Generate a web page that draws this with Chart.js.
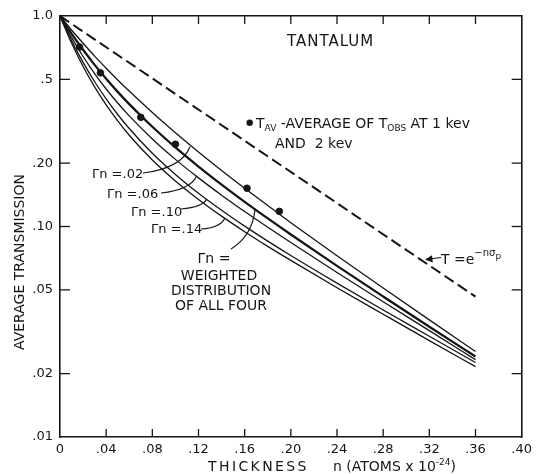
<!DOCTYPE html>
<html><head><meta charset="utf-8">
<script src="https://cdn.jsdelivr.net/npm/chart.js@4.4.1/dist/chart.umd.min.js"></script>
<style>html,body{margin:0;padding:0;background:#fff}#wrap{width:537px;height:474px;position:relative}</style>
</head><body><div id="wrap"><canvas id="c" width="537" height="474"></canvas></div>
<script>
// ---- data ----
const nGrid    = [0, 0.01, 0.02, 0.03, 0.04, 0.05, 0.06, 0.08, 0.10, 0.12, 0.14, 0.16, 0.18, 0.20, 0.24, 0.28, 0.32, 0.36];
const gamma02  = [1, .858, .742, .645, .565, .497, .440, .348, .279, .226, .1847, .1520, .1257, .1043, .0726, .0510, .0360, .0255];
const weighted = [1, .825, .691, .586, .503, .436, .3814, .2977, .2375, .1927, .1582, .1310, .1093, .0916, .0650, .0465, .0334, .0241];
const gamma06  = [1, .791, .642, .533, .450, .386, .3352, .2605, .2084, .1702, .1409, .1178, .0992, .0839, .0605, .0439, .0320, .0233];
const gamma10  = [1, .764, .602, .487, .404, .3405, .2920, .2229, .1768, .1439, .1194, .1004, .0852, .0728, .0538, .0401, .0301, .0226];
const gamma14  = [1, .744, .576, .4605, .378, .3175, .2714, .2069, .1645, .1344, .1120, .0945, .0805, .0690, .0512, .0383, .0287, .0216];
const tavThickness = [0.017, 0.035, 0.07, 0.10, 0.162, 0.19];
const tavValues    = [0.712, 0.537, 0.330, 0.246, 0.152, 0.118];
const potThickness = [0, 0.36];
const potValues    = [1, 0.0464];
const xTicks = [0, .04, .08, .12, .16, .20, .24, .28, .32, .36, .40];
const xTickLabels = ["0", ".04", ".08", ".12", ".16", ".20", ".24", ".28", ".32", ".36", ".40"];
const yTicks = [.01, .02, .05, .1, .2, .5, 1];
const yTickLabels = [".01", ".02", ".05", ".10", ".20", ".5", "1.0"];

const INK = '#151515';
const FONT = '"DejaVu Sans", sans-serif';
const pts = (xs, ys) => xs.map((x, i) => ({x: x, y: ys[i]}));
const curve = (label, ys, w) => ({label, data: pts(nGrid, ys), borderColor: INK, borderWidth: w,
  pointRadius: 0, fill: false, cubicInterpolationMode: 'monotone'});

const innerTicks = {
  id: 'innerTicks',
  afterDraw(chart) {
    const {ctx, chartArea: a, scales} = chart;
    ctx.save(); ctx.strokeStyle = INK; ctx.lineWidth = 1.3;
    const seg = (x1, y1, x2, y2) => { ctx.beginPath(); ctx.moveTo(x1, y1); ctx.lineTo(x2, y2); ctx.stroke(); };
    scales.x.ticks.forEach(t => {
      if (t.value <= 0 || t.value >= 0.4) return;
      const p = scales.x.getPixelForValue(t.value);
      seg(p, a.bottom, p, a.bottom - 8); seg(p, a.top, p, a.top + 8);
    });
    scales.y.ticks.forEach(t => {
      if (t.value <= 0.01 || t.value >= 1) return;
      const p = scales.y.getPixelForValue(t.value);
      seg(a.left, p, a.left + 10, p); seg(a.right, p, a.right - 10, p);
    });
    ctx.restore();
  }
};

function runs(ctx, x, y, parts) {
  parts.forEach(p => {
    ctx.font = (p.s || 14) + 'px ' + FONT;
    ctx.letterSpacing = (p.ls || 0) + 'px';
    ctx.fillText(p.t, x, y + (p.dy || 0));
    x += ctx.measureText(p.t).width + (p.gap || 0);
  });
  ctx.letterSpacing = '0px';
  return x;
}

const notes = {
  id: 'notes',
  afterDraw(chart) {
    const ctx = chart.ctx;
    ctx.save();
    ctx.fillStyle = INK; ctx.strokeStyle = INK; ctx.lineWidth = 1.2;
    ctx.textBaseline = 'alphabetic';
    // title
    ctx.textAlign = 'left';
    runs(ctx, 287, 46, [{t: 'TANTALUM', s: 15, ls: 1}]);
    // legend for points
    ctx.beginPath(); ctx.arc(249.7, 122.7, 3.2, 0, Math.PI * 2); ctx.fill();
    runs(ctx, 256, 128, [{t: 'T', s: 14}, {t: 'AV', s: 9, dy: 3}, {t: ' -AVERAGE OF T', s: 14}, {t: 'OBS', s: 9, dy: 3}, {t: ' AT 1 kev', s: 14}]);
    runs(ctx, 275, 148, [{t: 'AND  2 kev', s: 14}]);
    // Gamma labels
    ctx.font = '13px ' + FONT;
    ctx.fillText('\u0393n =.02', 92, 178);
    ctx.fillText('\u0393n =.06', 107, 198);
    ctx.fillText('\u0393n =.10', 131, 216);
    ctx.fillText('\u0393n =.14', 151, 233);
    const lead = (x1, y1, cx, cy, x2, y2) => { ctx.beginPath(); ctx.moveTo(x1, y1); ctx.quadraticCurveTo(cx, cy, x2, y2); ctx.stroke(); };
    lead(143, 173, 182, 168, 190, 146.7);
    lead(161, 193, 190, 190, 196.7, 176);
    lead(181, 209, 203, 207, 206.7, 199);
    lead(201, 229, 220, 228, 225, 218);
    lead(231, 249, 252, 236, 255, 210);
    // weighted label
    ctx.textAlign = 'center'; ctx.font = '14px ' + FONT;
    ctx.fillText('\u0393n =', 214, 263);
    ctx.fillText('WEIGHTED', 219, 280);
    ctx.fillText('DISTRIBUTION', 221, 295);
    ctx.fillText('OF ALL FOUR', 221, 310);
    // potential scattering label
    ctx.beginPath(); ctx.moveTo(441, 257.5); ctx.lineTo(426, 259.5); ctx.stroke();
    ctx.beginPath(); ctx.moveTo(425, 259.6); ctx.lineTo(432, 255.2); ctx.lineTo(432.8, 262.4); ctx.closePath(); ctx.fill();
    ctx.textAlign = 'left';
    runs(ctx, 441, 264, [{t: 'T =e', s: 14}, {t: '\u2212n\u03c3', s: 10, dy: -8}, {t: 'p', s: 9, dy: -5}]);
    // axis titles
    ctx.save(); ctx.translate(24, 262); ctx.rotate(-Math.PI / 2);
    ctx.textAlign = 'center'; ctx.font = '14px ' + FONT;
    ctx.fillText('AVERAGE TRANSMISSION', 0, 0);
    ctx.restore();
    ctx.textAlign = 'left';
    runs(ctx, 208, 471, [{t: 'THICKNESS', s: 14, ls: 2.4}]);
    runs(ctx, 333, 471, [{t: 'n', s: 14}, {t: ' (ATOMS x 10', s: 14}, {t: '-24', s: 9, dy: -6}, {t: ')', s: 14}]);
    ctx.restore();
  }
};

new Chart(document.getElementById('c'), {
  type: 'line',
  data: {
    datasets: [
      curve('\u0393n = .02', gamma02, 1.3),
      curve('weighted', weighted, 2.3),
      curve('\u0393n = .06', gamma06, 1.3),
      curve('\u0393n = .10', gamma10, 1.3),
      curve('\u0393n = .14', gamma14, 1.3),
      {label: 'T = e^-n\u03c3p', data: pts(potThickness, potValues), borderColor: INK, borderWidth: 2,
        borderDash: [11, 5], pointRadius: 0, fill: false},
      {label: 'T_AV', data: pts(tavThickness, tavValues), showLine: false, pointRadius: 3.3,
        pointBackgroundColor: INK, pointBorderColor: INK, borderColor: INK}
    ]
  },
  options: {
    responsive: false, animation: false, devicePixelRatio: 1,
    layout: {padding: 0},
    plugins: {legend: {display: false}, tooltip: {enabled: false}},
    scales: {
      x: {type: 'linear', position: 'bottom', min: 0, max: 0.4,
        afterBuildTicks: s => { s.ticks = xTicks.map(v => ({value: v})); },
        afterFit: s => { s.height = 37; },
        ticks: {callback: (v, i) => xTickLabels[i], color: INK, font: {family: FONT, size: 13}, padding: 5, maxRotation: 0, autoSkip: false},
        grid: {drawOnChartArea: false, drawTicks: false},
        border: {display: true, color: INK, width: 1.6}},
      xTop: {type: 'linear', position: 'top', min: 0, max: 0.4,
        afterFit: s => { s.height = 16; },
        ticks: {display: false}, grid: {drawOnChartArea: false, drawTicks: false},
        border: {display: true, color: INK, width: 1.6}},
      y: {type: 'logarithmic', position: 'left', min: 0.01, max: 1,
        afterBuildTicks: s => { s.ticks = yTicks.map(v => ({value: v})); },
        afterFit: s => { s.width = 60; },
        ticks: {callback: (v, i) => yTickLabels[i], color: INK, font: {family: FONT, size: 13}, padding: 7, autoSkip: false},
        grid: {drawOnChartArea: false, drawTicks: false},
        border: {display: true, color: INK, width: 1.6}},
      yRight: {type: 'logarithmic', position: 'right', min: 0.01, max: 1,
        afterFit: s => { s.width = 15; },
        ticks: {display: false}, grid: {drawOnChartArea: false, drawTicks: false},
        border: {display: true, color: INK, width: 1.6}}
    }
  },
  plugins: [innerTicks, notes]
});
</script>
</body></html>
